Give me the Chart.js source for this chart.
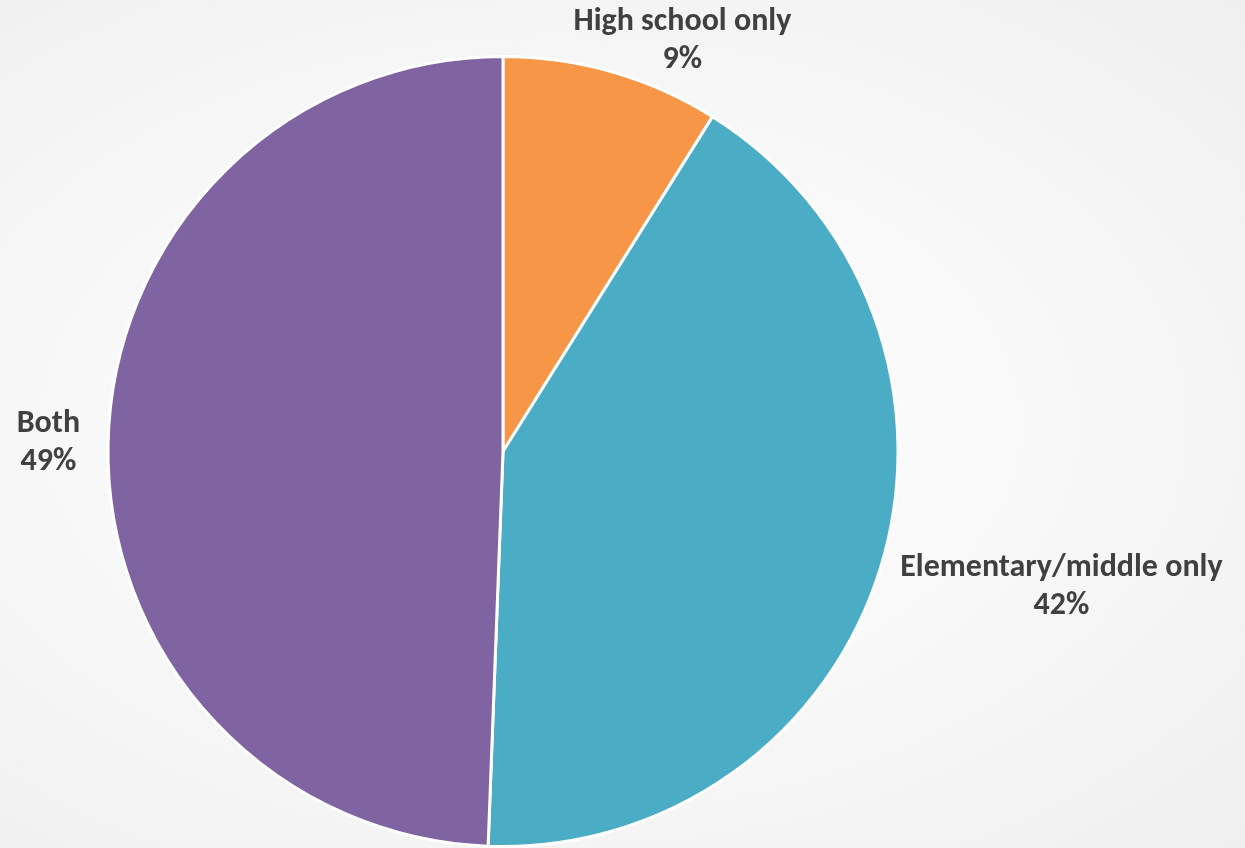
<!DOCTYPE html>
<html lang="en">
<head>
    <meta charset="UTF-8">
    <title>School level</title>
    <script src="https://cdn.jsdelivr.net/npm/chart.js"></script>
    <style>
        html, body {
            margin: 0;
            padding: 0;
        }
        body {
            width: 1245px;
            height: 848px;
            overflow: hidden;
            background: radial-gradient(ellipse at 45% 50%, #ffffff 0%, #f8f8f8 50%, #efefef 100%);
        }
        #wrap {
            position: relative;
            width: 1245px;
            height: 848px;
        }
    </style>
</head>
<body>
    <div id="wrap"><canvas id="pieChart"></canvas></div>

    <script>
        // Data
        const categories = ["High school only", "Elementary/middle only", "Both"];
        const shares = [8.9, 41.7, 49.4];
        const colors = ["#F79646", "#4BACC6", "#8064A2"];

        const labelFont = "bold 32px Carlito, Lato, 'Open Sans', sans-serif";
        const lineGap = 38;

        // Outside-end labels, nudged back inside the canvas like Excel's best fit
        const outsideLabels = {
            id: "outsideLabels",
            afterDatasetsDraw(chart) {
                const ctx = chart.ctx;
                const meta = chart.getDatasetMeta(0);
                ctx.save();
                ctx.font = labelFont;
                ctx.fillStyle = "#404040";
                ctx.textAlign = "center";
                ctx.textBaseline = "middle";
                meta.data.forEach((arc, i) => {
                    const lines = [categories[i], Math.round(shares[i]) + "%"];
                    const w = Math.max(...lines.map(l => ctx.measureText(l).width));
                    const h = lines.length * lineGap;
                    const mid = (arc.startAngle + arc.endAngle) / 2;
                    const r = arc.outerRadius + 28;
                    const ax = arc.x + Math.cos(mid) * r;
                    const ay = arc.y + Math.sin(mid) * r;
                    let cx = ax + Math.cos(mid) * w / 2;
                    let cy = ay + Math.sin(mid) * h / 2;
                    const top = cy - h / 2;
                    if (top < 3) {
                        const shift = 3 - top;
                        cy += shift;
                        cx += Math.sign(Math.cos(mid)) * shift;
                    }
                    cx = Math.min(Math.max(cx, w / 2 + 8), chart.width - w / 2 - 8);
                    lines.forEach((l, k) => {
                        ctx.fillText(l, cx, cy - h / 2 + lineGap * (k + 0.5));
                    });
                });
                ctx.restore();
            }
        };

        new Chart(document.getElementById("pieChart"), {
            type: "pie",
            data: {
                labels: categories,
                datasets: [{
                    data: shares,
                    backgroundColor: colors,
                    borderColor: "#ffffff",
                    borderWidth: 3
                }]
            },
            options: {
                responsive: true,
                maintainAspectRatio: false,
                animation: false,
                layout: {
                    padding: { top: 55, bottom: 0, left: 0, right: 239 }
                },
                plugins: {
                    legend: { display: false },
                    tooltip: { enabled: false }
                }
            },
            plugins: [outsideLabels]
        });
    </script>
</body>
</html>
